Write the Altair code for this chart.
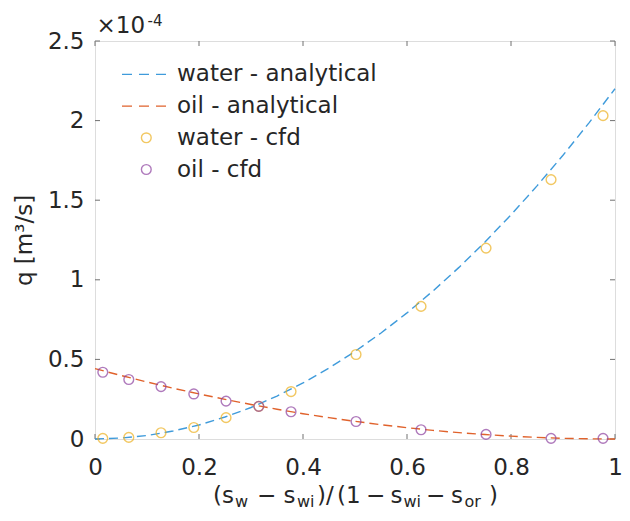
import altair as alt
import pandas as pd

# ---------------- data (q in units of 1e-4 m^3/s) ----------------
x_line = [0.00, 0.05, 0.10, 0.15, 0.20, 0.25, 0.30, 0.35, 0.40, 0.45, 0.50,
          0.55, 0.60, 0.65, 0.70, 0.75, 0.80, 0.85, 0.90, 0.95, 1.00]
water_analytical = [0.000, 0.006, 0.022, 0.050, 0.088, 0.138, 0.198, 0.270, 0.352, 0.446, 0.550,
                    0.666, 0.792, 0.930, 1.078, 1.238, 1.408, 1.590, 1.782, 1.986, 2.200]
oil_analytical = [0.442, 0.399, 0.358, 0.319, 0.283, 0.249, 0.217, 0.187, 0.159, 0.134, 0.111,
                  0.090, 0.071, 0.054, 0.040, 0.028, 0.018, 0.010, 0.004, 0.001, 0.000]

x_cfd = [0.015, 0.065, 0.127, 0.190, 0.252, 0.315, 0.377, 0.502, 0.627, 0.752, 0.877, 0.977]
water_cfd = [0.004, 0.010, 0.039, 0.072, 0.134, 0.205, 0.298, 0.531, 0.833, 1.199, 1.629, 2.031]
oil_cfd = [0.419, 0.374, 0.329, 0.283, 0.238, 0.205, 0.171, 0.110, 0.058, 0.029, 0.004, 0.004]

series_names = ["water - analytical", "oil - analytical", "water - cfd", "oil - cfd"]
series_colors = ["#3f9bdb", "#e0622c", "#edb120", "#8e42a0"]

x_ticks = [0, 0.2, 0.4, 0.6, 0.8, 1]
y_ticks = [0, 0.5, 1, 1.5, 2, 2.5]

x_title_pieces = ["(s", "w", "\u2212", "s", "wi", ")/", "(1", "\u2212", "s", "wi", "\u2212", "s", "or", ")"]
y_title = "q [m\u00b3/s]"
exp_main = "\u00d710"
exp_sup = "-4"

# ---------------- styling / layout ----------------
FONT = "DejaVu Sans"
FS = 23
SUB = 16
TXT = "#262626"
BOX = "#707070"
W, H = 520, 398

# title piece layout: (is_subscript, x offset in px)
x_title_layout = [(False, 118), (True, 140), (False, 162), (False, 188.5), (True, 202),
                  (False, 222), (False, 242), (False, 271), (False, 295.5), (True, 308.5),
                  (False, 331), (False, 356), (True, 369.5), (False, 394)]

lines_df = pd.DataFrame({
    "x": x_line * 2,
    "q": water_analytical + oil_analytical,
    "series": [series_names[0]] * len(x_line) + [series_names[1]] * len(x_line),
})
water_df = pd.DataFrame({"x": x_cfd, "q": water_cfd, "series": series_names[2]})
oil_df = pd.DataFrame({"x": x_cfd, "q": oil_cfd, "series": series_names[3]})

x_scale = alt.Scale(domain=[0, 1], nice=False, zero=False)
y_scale = alt.Scale(domain=[0, 2.5], nice=False)
x_axis = alt.Axis(values=x_ticks, format="~g", domain=False, ticks=False, tickSize=0, grid=False,
                  labelFlush=False, labelFont=FONT, labelFontSize=FS, labelColor=TXT,
                  labelPadding=17, title=None)
y_axis = alt.Axis(values=y_ticks, format="~g", domain=False, ticks=False, tickSize=0, grid=False,
                  labelFlush=False, labelFont=FONT, labelFontSize=FS, labelColor=TXT, labelPadding=11,
                  title=y_title, titleFont=FONT, titleFontSize=FS, titleFontWeight="normal",
                  titleColor=TXT, titleX=-71, titleY=H / 2, titleAngle=270, titleBaseline="middle",
                  titleAlign="center")


def X(field):
    return alt.X(field, type="quantitative", scale=x_scale, axis=x_axis, title=None)


def Y(field):
    return alt.Y(field, type="quantitative", scale=y_scale, axis=y_axis, title=y_title)


color_scale = alt.Scale(domain=series_names, range=series_colors)

lines = alt.Chart(lines_df).mark_line(strokeDash=[9, 5], strokeWidth=1.4, clip=False).encode(
    x=X("x"), y=Y("q"),
    stroke=alt.Stroke("series:N", scale=color_scale, legend=None),
    detail="series:N",
)
pts_w = alt.Chart(water_df).mark_point(shape="circle", filled=False, size=95, strokeWidth=1.4).encode(
    x=X("x"), y=Y("q"), stroke=alt.Stroke("series:N", scale=color_scale, legend=None))
pts_o = alt.Chart(oil_df).mark_point(shape="circle", filled=False, size=95, strokeWidth=1.4).encode(
    x=X("x"), y=Y("q"), stroke=alt.Stroke("series:N", scale=color_scale, legend=None))

xt_df = pd.DataFrame({"v": x_ticks})
yt_df = pd.DataFrame({"v": y_ticks})
tick_b = alt.Chart(xt_df).mark_rule(color=BOX, strokeWidth=1).encode(x=X("v"), y=alt.value(H), y2=alt.value(H - 5))
tick_t = alt.Chart(xt_df).mark_rule(color=BOX, strokeWidth=1).encode(x=X("v"), y=alt.value(0), y2=alt.value(5))
tick_l = alt.Chart(yt_df).mark_rule(color=BOX, strokeWidth=1).encode(y=Y("v"), x=alt.value(0), x2=alt.value(5))
tick_r = alt.Chart(yt_df).mark_rule(color=BOX, strokeWidth=1).encode(y=Y("v"), x=alt.value(W), x2=alt.value(W - 5))

one = pd.DataFrame({"d": [0]})
layers = [tick_b, tick_t, tick_l, tick_r, lines, pts_w, pts_o]

# legend (top-left, no box)
row_y = [33.4, 65.1, 96.8, 128.5]
for i, name in enumerate(series_names):
    if i < 2:
        layers.append(alt.Chart(one).mark_rule(color=series_colors[i], strokeWidth=1.4, strokeDash=[10, 7]).encode(
            x=alt.value(27), x2=alt.value(74), y=alt.value(row_y[i])))
    else:
        layers.append(alt.Chart(one).mark_point(shape="circle", filled=False, size=95, strokeWidth=1.4,
                                                color=series_colors[i]).encode(
            x=alt.value(51.3), y=alt.value(row_y[i])))
    layers.append(alt.Chart(one).mark_text(text=name, font=FONT, fontSize=FS, color=TXT, align="left",
                                           baseline="middle").encode(x=alt.value(82), y=alt.value(row_y[i])))

# x-axis title with subscripts
for txt, (is_sub, xo) in zip(x_title_pieces, x_title_layout):
    layers.append(alt.Chart(one).mark_text(text=txt, font=FONT, fontSize=SUB if is_sub else FS, color=TXT,
                                           align="left", baseline="alphabetic").encode(
        x=alt.value(xo), y=alt.value(H + 67.5 if is_sub else H + 64.0)))

# exponent label
layers.append(alt.Chart(one).mark_text(text=exp_main, font=FONT, fontSize=FS, color=TXT, align="left",
                                       baseline="alphabetic").encode(x=alt.value(1.5), y=alt.value(-8.3)))
layers.append(alt.Chart(one).mark_text(text=exp_sup, font=FONT, fontSize=15, color=TXT, align="left",
                                       baseline="alphabetic").encode(x=alt.value(52.5), y=alt.value(-15.3)))

chart = alt.layer(*layers).properties(
    width=W, height=H,
    autosize=alt.AutoSizeParams(type="none"),
    padding={"left": 87, "top": 33, "right": 7, "bottom": 74},
).configure_view(stroke=BOX, strokeWidth=1.6).configure(background="white")

chart.save("out.html", embed_options={"renderer": "svg", "actions": False})
